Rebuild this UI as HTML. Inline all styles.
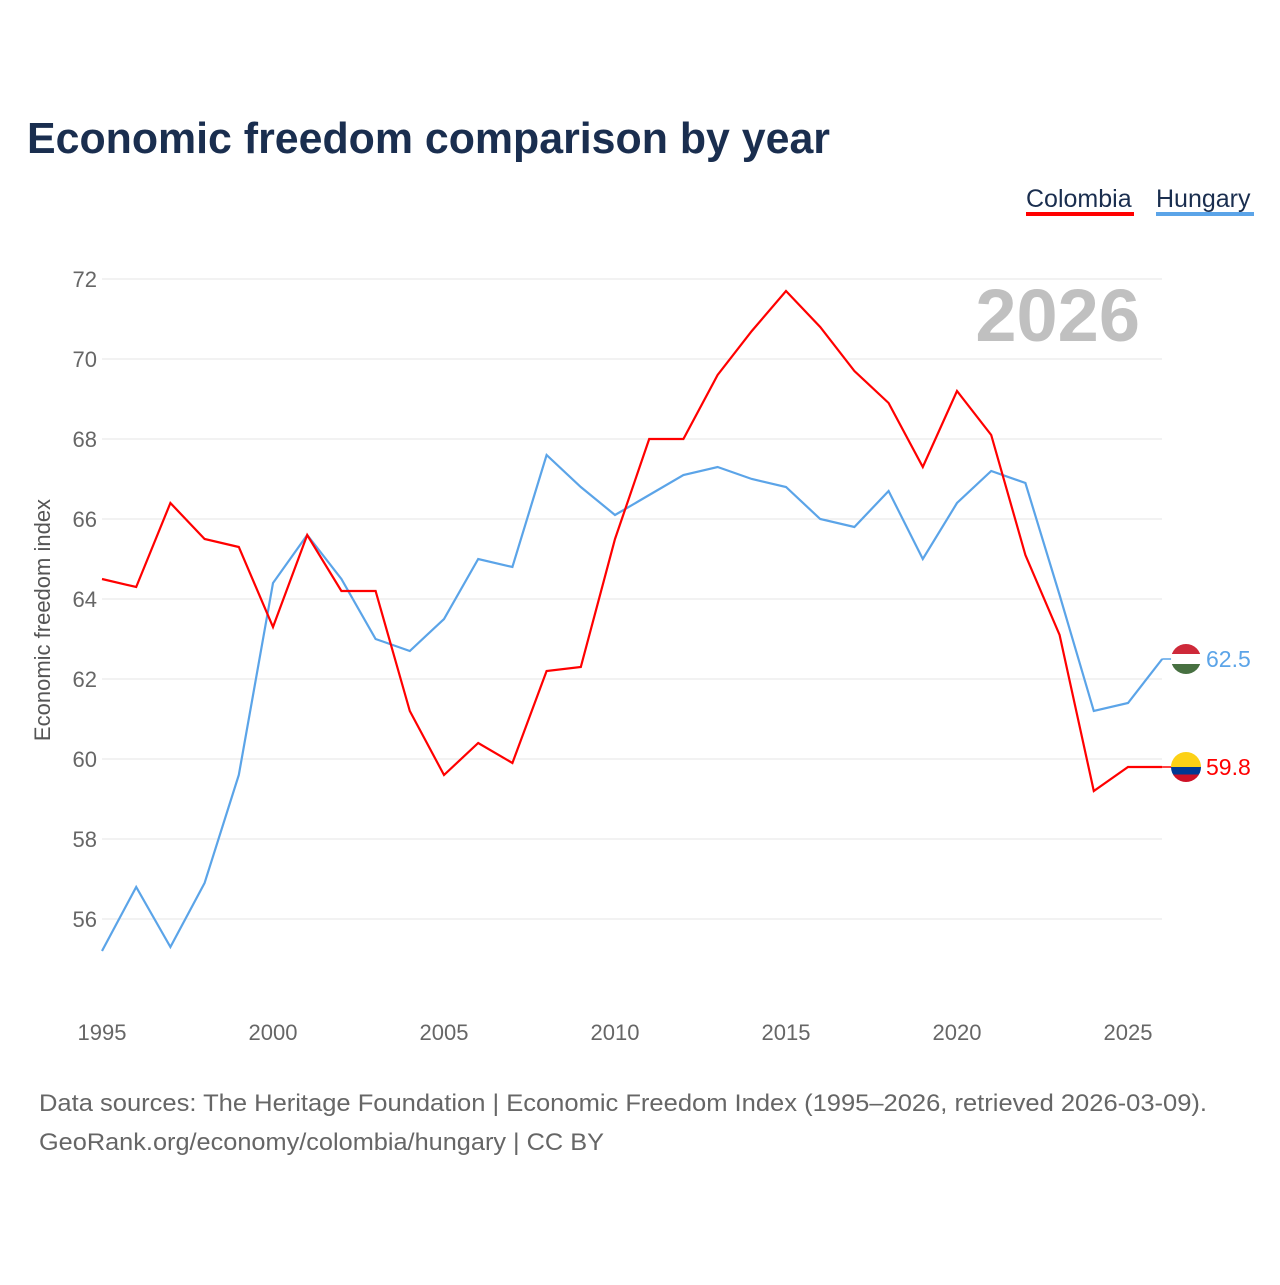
<!DOCTYPE html>
<html><head><meta charset="utf-8"><style>
body{margin:0;background:#fff;font-family:"Liberation Sans",sans-serif}
</style></head><body>
<svg id="chart" width="1280" height="1280" xmlns="http://www.w3.org/2000/svg" font-family="Liberation Sans, sans-serif">
<text x="27" y="153" font-size="44" font-weight="bold" fill="#1a2e4f" textLength="803" lengthAdjust="spacingAndGlyphs">Economic freedom comparison by year</text>
<g>
<text x="1026" y="207" font-size="25" fill="#1a2e4f">Colombia</text>
<rect x="1026" y="212" width="108" height="4" fill="#f00"/>
<text x="1156" y="207" font-size="25" fill="#1a2e4f">Hungary</text>
<rect x="1156" y="212" width="98" height="4" fill="#5ba4e8"/>
</g>
<text x="1140" y="341" text-anchor="end" font-size="74" font-weight="bold" fill="#c0c0c0">2026</text>
<text transform="translate(50,620) rotate(-90)" text-anchor="middle" font-size="22" fill="#555">Economic freedom index</text>
<g id="grid"></g><g id="yt"></g><g id="xt"></g><g id="lines"></g>
<text x="39" y="1111" font-size="24" fill="#666" textLength="1168" lengthAdjust="spacingAndGlyphs">Data sources: The Heritage Foundation | Economic Freedom Index (1995–2026, retrieved 2026-03-09).</text>
<text x="39" y="1150" font-size="24" fill="#666" textLength="565" lengthAdjust="spacingAndGlyphs">GeoRank.org/economy/colombia/hungary | CC BY</text>
</svg>
<script>
const years=[];for(let y=1995;y<=2026;y++)years.push(y);
const colombia=[64.5,64.3,66.4,65.5,65.3,63.3,65.6,64.2,64.2,61.2,59.6,60.4,59.9,62.2,62.3,65.5,68.0,68.0,69.6,70.7,71.7,70.8,69.7,68.9,67.3,69.2,68.1,65.1,63.1,59.2,59.8,59.8];
const hungary=[55.2,56.8,55.3,56.9,59.6,64.4,65.6,64.5,63.0,62.7,63.5,65.0,64.8,67.6,66.8,66.1,66.6,67.1,67.3,67.0,66.8,66.0,65.8,66.7,65.0,66.4,67.2,66.9,64.1,61.2,61.4,62.5];
const yTicks=[56,58,60,62,64,66,68,70,72];
const xTicks=[1995,2000,2005,2010,2015,2020,2025];
const NS="http://www.w3.org/2000/svg";
const x=v=>102+(v-1995)*34.2;
const y=v=>279+(72-v)*40;
function mk(t,a,p){const e=document.createElementNS(NS,t);for(const k in a)e.setAttribute(k,a[k]);p.appendChild(e);return e;}
const grid=document.getElementById('grid'),yt=document.getElementById('yt'),xt=document.getElementById('xt'),L=document.getElementById('lines');
yTicks.forEach(v=>{
 const l=mk('line',{x1:102,x2:1162,y1:y(v),y2:y(v),stroke:'#e6e6e6','stroke-width':1},grid);
 
 
 const t=mk('text',{x:97,y:y(v)+8,'text-anchor':'end','font-size':22,fill:'#666'},yt);
 
 
 t.textContent=v;
});
xTicks.forEach(v=>{
 const t=mk('text',{x:x(v),y:1040,'text-anchor':'middle','font-size':22,fill:'#666'},xt);
 
 
 t.textContent=v;
});
function series(vals,col,name,flag){
 const d=vals.map((v,i)=>(i?'L':'M')+x(years[i])+','+y(v)).join(' ');
 const p=mk('path',{d:d,fill:'none',stroke:col,'stroke-width':2.2},L);
 
 
 const lv=vals[vals.length-1],ly=y(lv),lx=x(2026);
 mk('line',{x1:lx,x2:lx+14,y1:ly,y2:ly,stroke:col,'stroke-width':1.5},L);
 const g=mk('g',{},L);
 
 
 const cx=1186,r=15;
 const cid='c'+name;
 const cp=mk('clipPath',{id:cid},g);mk('circle',{cx:cx,cy:ly,r:r},cp);
 flag.forEach((f,i)=>mk('rect',{x:cx-r,y:ly-r+f[0]*2*r,width:2*r,height:f[1]*2*r,fill:f[2],'clip-path':'url(#'+cid+')'},g));
 const t=mk('text',{x:1206,y:ly+8,'font-size':23,fill:col},L);
 
 
 t.textContent=lv.toFixed(1);
}
series(hungary,'#5ba4e8','hungary',[[0,1/3,'#ce2939'],[1/3,1/3,'#fff'],[2/3,1/3,'#477041']]);
series(colombia,'#f00','colombia',[[0,0.5,'#fcd116'],[0.5,0.25,'#003893'],[0.75,0.25,'#ce1126']]);
</script>
</body></html>
